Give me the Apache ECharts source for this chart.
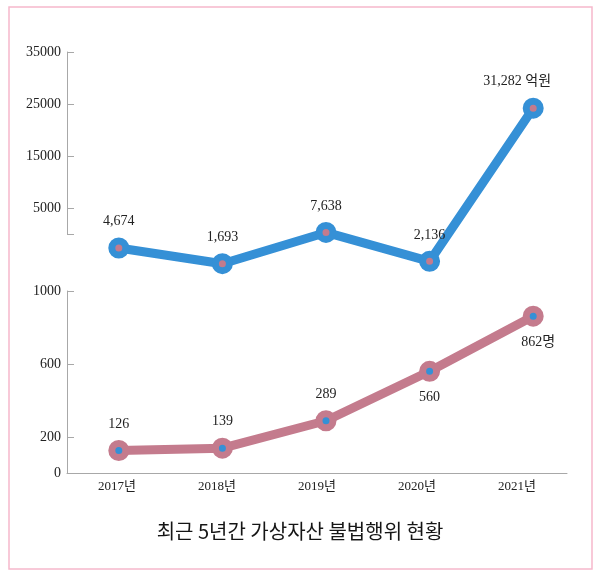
<!DOCTYPE html>
<html>
<head>
<meta charset="utf-8">
<script src="https://cdn.jsdelivr.net/npm/echarts@6/dist/echarts.min.js"></script>
<style>
html, body { margin: 0; padding: 0; background: #fff; }
#chart { width: 600px; height: 579px; }
</style>
</head>
<body>
<div id="chart"></div>
<script>
// 데이터
var years = ['2017년', '2018년', '2019년', '2020년', '2021년'];
var amountData = [4674, 1693, 7638, 2136, 31282]; // 억원
var peopleData = [126, 139, 289, 560, 862];       // 명
var amountTicks = [0, 5000, 15000, 25000, 35000];
var amountLabels = [5000, 15000, 25000, 35000];
var peopleTicks = [0, 200, 600, 1000];

var serif = "'Liberation Serif', 'Noto Sans CJK KR', serif";
var blue = '#3590d6';
var mauve = '#c47b8d';
var axisGray = '#a8a8a8';

function fmt(v) {
  return v.toLocaleString('en-US');
}

// 아래 두 개 라벨은 점 아래쪽
var peopleItems = peopleData.map(function (v, i) {
  var item = { value: v };
  if (i >= 3) {
    item.label = { position: 'bottom', distance: 9, offset: i === 4 ? [5, 0] : [0, 0] };
  }
  return item;
});
var amountItems = amountData.map(function (v, i) {
  var item = { value: v };
  if (i === 4) item.label = { offset: [-16, 0] };
  return item;
});

var myChart = echarts.init(document.getElementById('chart'));
myChart.setOption({
  animation: false,
  title: {
    text: '최근 5년간 가상자산 불법행위 현황',
    left: 'center',
    top: 516,
    textStyle: {
      fontFamily: "'Noto Sans CJK KR', sans-serif",
      fontSize: 20,
      fontWeight: 'normal',
      color: '#151515'
    }
  },
  graphic: [{
    type: 'rect',
    shape: { x: 9, y: 7, width: 583, height: 562 },
    style: { fill: 'none', stroke: '#f6b8cc', lineWidth: 1.5 },
    silent: true
  }],
  grid: [
    // 위쪽 눈금 축
    { left: 67, right: 15, top: 52, height: 182 },
    // 위쪽 데이터
    { left: 67, right: 15, top: 88.6, height: 184 },
    // 아래쪽 축 + 데이터
    { left: 67, right: 15, top: 291, height: 182.5 },
    // x축 표시용
    { left: 67, width: 500, top: 291, height: 182.5 }
  ],
  xAxis: [
    { gridIndex: 0, type: 'category', data: years, show: false },
    { gridIndex: 1, type: 'category', data: years, show: false },
    { gridIndex: 2, type: 'category', data: years, show: false },
    {
      gridIndex: 3,
      type: 'category',
      data: years,
      axisLine: { lineStyle: { color: axisGray, width: 1 } },
      axisTick: { length: 5, lineStyle: { color: axisGray } },
      axisLabel: { margin: 7, color: '#222', fontSize: 13, fontFamily: serif }
    }
  ],
  yAxis: [
    {
      gridIndex: 0,
      type: 'value',
      min: 0,
      max: 35000,
      splitLine: { show: false },
      axisLine: { show: true, lineStyle: { color: axisGray, width: 1 } },
      axisTick: { show: true, inside: true, length: 7, customValues: amountTicks, lineStyle: { color: axisGray } },
      axisLabel: {
        customValues: amountLabels, margin: 6, color: '#222', fontSize: 14, fontFamily: serif,
        formatter: function (v) { return String(v); }
      }
    },
    { gridIndex: 1, type: 'value', min: 0, max: 35000, show: false },
    {
      gridIndex: 2,
      type: 'value',
      min: 0,
      max: 1000,
      splitLine: { show: false },
      axisLine: { show: true, lineStyle: { color: axisGray, width: 1 } },
      axisTick: { show: true, inside: true, length: 7, customValues: peopleTicks, lineStyle: { color: axisGray } },
      axisLabel: {
        customValues: peopleTicks, margin: 6, color: '#222', fontSize: 14, fontFamily: serif,
        formatter: function (v) { return String(v); }
      }
    },
    { gridIndex: 3, type: 'value', min: 0, max: 1000, show: false }
  ],
  series: [
    {
      name: '불법행위 금액',
      type: 'line',
      xAxisIndex: 1,
      yAxisIndex: 1,
      data: amountItems,
      symbol: 'circle',
      symbolSize: 14,
      lineStyle: { color: blue, width: 9 },
      itemStyle: { color: mauve, borderColor: blue, borderWidth: 7 },
      label: {
        show: true,
        position: 'top',
        distance: 9,
        color: '#222',
        fontSize: 14,
        fontFamily: serif,
        formatter: function (p) {
          return p.dataIndex === 4 ? fmt(p.value) + ' 억원' : fmt(p.value);
        }
      },
      silent: true
    },
    {
      name: '불법행위 인원',
      type: 'line',
      xAxisIndex: 2,
      yAxisIndex: 2,
      data: peopleItems,
      symbol: 'circle',
      symbolSize: 14,
      lineStyle: { color: mauve, width: 9 },
      itemStyle: { color: blue, borderColor: mauve, borderWidth: 7 },
      label: {
        show: true,
        position: 'top',
        distance: 9,
        color: '#222',
        fontSize: 14,
        fontFamily: serif,
        formatter: function (p) {
          return p.dataIndex === 4 ? fmt(p.value) + '명' : fmt(p.value);
        }
      },
      silent: true
    }
  ]
});
</script>
</body>
</html>
